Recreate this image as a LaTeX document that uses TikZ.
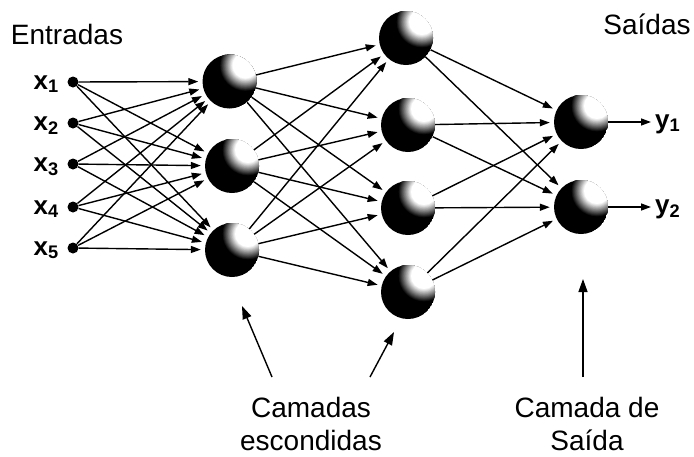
\documentclass[tikz,border=0pt]{standalone}
\usepackage{fontspec}
\setmainfont{Liberation Sans}
\usetikzlibrary{arrows.meta}

\begin{document}
\begin{tikzpicture}[x=1pt,y=-1pt,
  neuron/.style={circle, minimum size=54pt, inner sep=0pt},
  indot/.style={circle, fill=black, minimum size=11pt, inner sep=0pt},
  link/.style={-{Triangle[length=10pt,width=7pt]}, line width=1.4pt, shorten >=4pt},
  pointer/.style={-{Triangle[length=13pt,width=9pt]}, line width=1.4pt},
  lbl/.style={font=\fontsize{28}{33}\selectfont, inner sep=0pt},
  xlbl/.style={font=\fontsize{26}{30}\selectfont\bfseries, inner sep=0pt}]
\useasboundingbox (0,0) rectangle (694,456);

% input points and their labels
\foreach \i/\y in {1/82,2/123,3/164,4/207,5/248}{
  \node[indot] (i\i) at (73,\y) {};
  \node[xlbl, anchor=base east] (lx\i) at (59,\y+7) {x\textsubscript{\i}};
}

% first hidden layer
\node[neuron] (h1) at (229.5,81.5) {};
\node[neuron] (h2) at (232,166) {};
\node[neuron] (h3) at (232,250) {};

% second hidden layer
\node[neuron] (g1) at (406,38) {};
\node[neuron] (g2) at (408,125) {};
\node[neuron] (g3) at (408,208) {};
\node[neuron] (g4) at (408,292) {};

% output layer
\node[neuron] (o1) at (581,122) {};
\node[neuron] (o2) at (581,207) {};

% neuron balls: black body washed out to white towards the upper right
\foreach \n in {h1,h2,h3,g1,g2,g3,g4,o1,o2}{
  \begin{scope}
    \clip (\n.center) circle[radius=27pt];
    \fill[black] (\n.center) circle[radius=27pt];
    \foreach \p in {95,90,...,0}
      \fill[black!\p] ([shift={(16pt,16pt)}]\n.center) circle[radius={13pt+\p*0.13pt}];
  \end{scope}
}

% outputs
\node[xlbl, anchor=base west] (y1) at (655,128) {y\textsubscript{1}};
\node[xlbl, anchor=base west] (y2) at (655,213) {y\textsubscript{2}};

% full connections between consecutive layers
\foreach \a in {1,...,5}
  \foreach \b in {1,2,3}
    \draw[link] (i\a) -- (h\b);
\foreach \a in {1,2,3}
  \foreach \b in {1,...,4}
    \draw[link] (h\a) -- (g\b);
\foreach \a in {1,...,4}
  \foreach \b in {1,2}
    \draw[link] (g\a) -- (o\b);
\draw[link] (o1) -- (y1.west |- o1);
\draw[link] (o2) -- (y2.west |- o2);

% titles
\node[lbl] (ent) at (67,34) {Entradas};
\node[lbl] (sai) at (647,24) {Saídas};
\node[lbl, anchor=north, align=center] (cam) at (311,397) {Camadas\\escondidas};
\node[lbl, anchor=north, align=center] (cas) at (587,397) {Camada de\\Saída};

% pointers from the captions to the layers
\coordinate (p1s) at (272,377); \coordinate (p1e) at (242,306);
\coordinate (p2s) at (370,377); \coordinate (p2e) at (394,332);
\coordinate (p3s) at (583,377); \coordinate (p3e) at (583,279);
\draw[pointer] (p1s) -- (p1e);
\draw[pointer] (p2s) -- (p2e);
\draw[pointer] (p3s) -- (p3e);
\end{tikzpicture}
\end{document}
